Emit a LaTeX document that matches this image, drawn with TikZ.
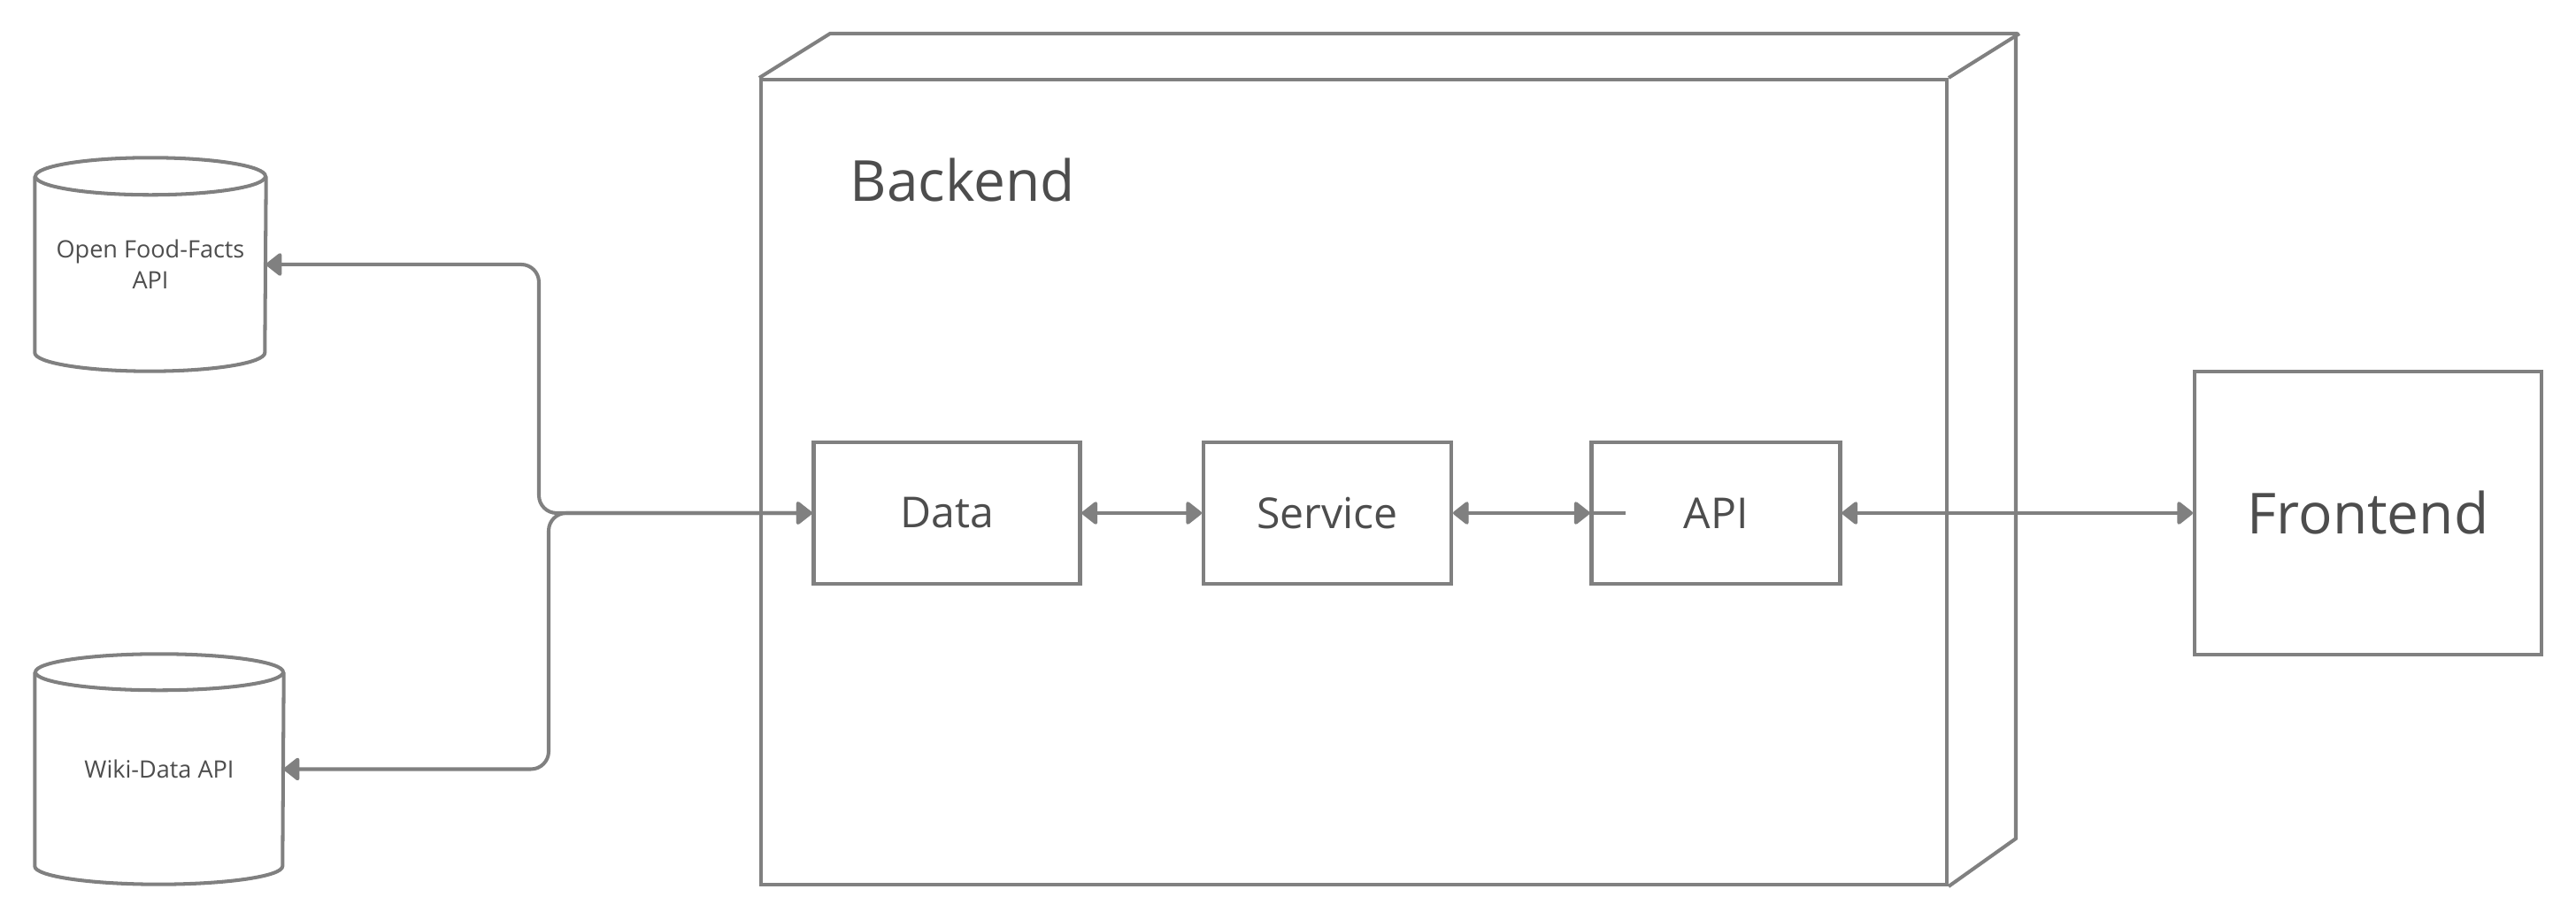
\documentclass[tikz,border=0pt]{standalone}
\usepackage{fontspec}
\setmainfont{Open Sans}
\usetikzlibrary{arrows.meta}

\definecolor{linegray}{HTML}{808080}
\definecolor{textgray}{HTML}{4D4D4D}

\newcommand{\bigfont}{\fontsize{18.2}{22}\selectfont}
\newcommand{\midfont}{\fontsize{13.7}{16}\selectfont}
\newcommand{\smallfont}{\fontsize{7.7}{10}\selectfont}

\tikzset{
  wire/.style={draw=linegray,line width=1.15pt},
  box/.style={rectangle,wire,fill=white,text=textgray,inner sep=0pt},
  storebody/.style={rectangle,text=textgray,align=center,inner sep=0pt,font=\smallfont},
  boxtext/.style={text=textgray,inner sep=0pt},
  link/.style={wire,>={Triangle[length=5.4pt,width=8.2pt,round]},<->}
}

\begin{document}
\begin{tikzpicture}
    \useasboundingbox (0,0) rectangle (29.11,10.40);

    % backend container (front face, then the depth)
    \node[box, minimum width=13.40cm, minimum height=9.10cm] (backend) at (15.30,4.95) {};
    \draw[wire] (backend.north west) -- ++(0.80,0.50) -- ++(13.40,0) -- ++(0,-9.10) -- (backend.south east);
    \draw[wire] (backend.north east) -- ++(0.80,0.50);
    \node[boxtext, font=\bigfont, anchor=west] (backendname) at (9.60,8.36) {Backend};

    % layers inside the backend
    \node[box, font=\midfont, minimum width=3.01cm, minimum height=1.60cm] (data) at (10.70,4.60) {Data};
    \node[box, font=\midfont, minimum width=2.80cm, minimum height=1.60cm] (service) at (15.00,4.60) {Service};
    \node[box, font=\midfont, minimum width=2.81cm, minimum height=1.60cm] (api) at (19.39,4.60) {API};

    % frontend
    \node[box, font=\bigfont, minimum width=3.92cm, minimum height=3.20cm] (frontend) at (26.76,4.60) {Frontend};

    % open food-facts store
    \node[storebody, minimum width=2.60cm, minimum height=1.98cm] (offapi) at (1.70,7.41) {Open Food-Facts\\API};
    \draw[wire] (offapi.north west) -- (offapi.south west) arc[start angle=180, end angle=360, x radius=1.30cm, y radius=0.21cm] -- (offapi.north east);
    \draw[wire] (offapi.north) ellipse[x radius=1.30cm, y radius=0.21cm];

    % wiki-data store
    \node[storebody, minimum width=2.80cm, minimum height=2.18cm] (wikiapi) at (1.80,1.705) {Wiki-Data API};
    \draw[wire] (wikiapi.north west) -- (wikiapi.south west) arc[start angle=180, end angle=360, x radius=1.40cm, y radius=0.205cm] -- (wikiapi.north east);
    \draw[wire] (wikiapi.north) ellipse[x radius=1.40cm, y radius=0.205cm];

    % bends where the source lines meet
    \coordinate (offbend) at (6.09,4.60);
    \coordinate (wikibend) at (6.20,4.60);

    % sources <-> data
    \draw[link, rounded corners=0.2cm] (offapi.east) -| (offbend) -- (data.west);
    \draw[link, rounded corners=0.2cm] (wikiapi.east) -| (wikibend) -- (data.west);

    % layers
    \draw[link] (data) to (service);
    \draw[link] (service) to (api);
    \draw[wire] (api.west) to ++(0.41,0);

    % api <-> frontend
    \draw[link] (api) to (frontend);

\end{tikzpicture}
\end{document}
